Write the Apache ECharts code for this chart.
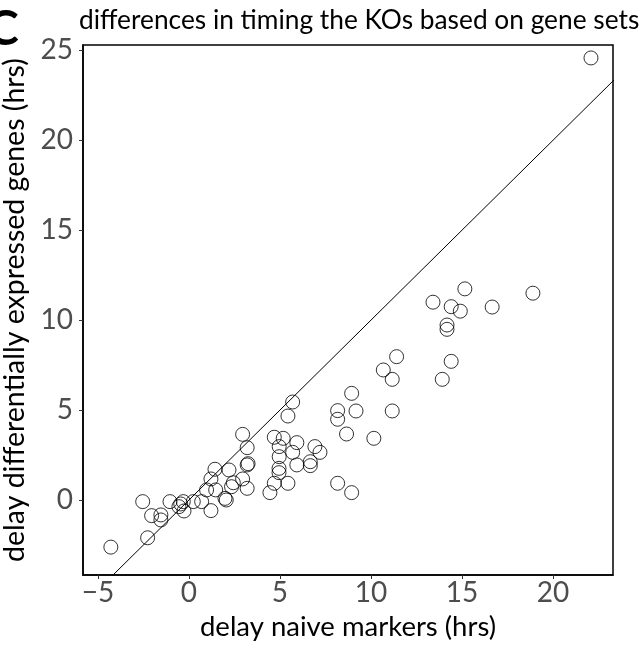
<!DOCTYPE html>
<html>
<head>
<meta charset="utf-8">
<script src="https://cdn.jsdelivr.net/npm/echarts@6/dist/echarts.min.js"></script>
<style>
html,body{margin:0;padding:0;background:#fff;}
#chart{width:644px;height:645px;}
</style>
</head>
<body>
<div id="chart"></div>
<script>
// delay naive markers (hrs)
const naiveDelay = [22.09,-4.29,-2.27,-2.54,-2.05,-1.54,-1.54,-1.04,-0.55,-0.31,-0.27,-0.45,0.24,0.70,1.21,0.97,1.21,1.43,1.47,1.98,2.05,2.20,2.34,2.44,2.95,3.20,3.20,3.25,2.95,3.20,4.45,4.69,5.18,4.96,4.96,4.95,4.95,4.69,5.44,5.93,5.70,5.93,6.92,7.20,6.67,6.67,5.70,5.44,8.17,8.17,9.18,8.94,8.66,10.16,8.17,8.94,11.17,10.68,11.17,11.41,13.92,14.41,14.18,14.18,13.41,14.41,14.91,15.16,16.66,18.90];
// delay differentially expressed genes (hrs)
const degDelay = [24.58,-2.62,-2.10,-0.09,-0.87,-0.83,-1.11,-0.09,-0.37,-0.09,-0.61,-0.22,-0.09,-0.09,-0.59,0.56,1.17,1.71,0.56,0.09,0.00,1.67,0.74,0.96,3.65,2.91,1.95,2.02,1.17,0.65,0.41,3.49,3.43,2.97,2.41,1.76,1.52,0.93,0.93,3.19,2.65,1.95,2.97,2.65,2.13,1.91,5.45,4.67,4.97,4.49,4.95,5.93,3.67,3.43,0.93,0.41,4.95,7.23,6.71,7.97,6.71,7.71,9.73,9.49,11.00,10.75,10.50,11.74,10.73,11.50];
const xTicks = [-5, 0, 5, 10, 15, 20];
const yTicks = [0, 5, 10, 15, 20, 25];
const identityLine = [-10, 30];
const xRange = [-5.82, 23.3];
const yRange = [-4.17, 25.3];

const points = naiveDelay.map((x, i) => [x, degDelay[i]]);
const font = 'Lato';
const fmt = v => String(v).replace('-', '\u2212');

const chart = echarts.init(document.getElementById('chart'), null, {renderer: 'canvas'});
chart.setOption({
  animation: false,
  backgroundColor: '#fff',
  title: {
    text: 'differences in timing the KOs based on gene sets',
    left: 74, top: 3,
    textStyle: {fontFamily: font, fontSize: 26.3, fontWeight: 'normal', color: '#000'}
  },
  graphic: [{
    type: 'text', left: -13, top: 6,
    style: {text: 'C', font: 'bold 48px ' + font, fill: '#000'}
  }],
  grid: {
    left: 83, right: 31, top: 45, bottom: 70,
    containLabel: false, outerBoundsMode: 'none',
    show: true, borderColor: '#000', borderWidth: 1.5, backgroundColor: '#fff'
  },
  xAxis: {
    type: 'value', min: xRange[0], max: xRange[1],
    name: 'delay naive markers (hrs)', nameLocation: 'middle', nameGap: 38,
    nameTextStyle: {fontFamily: font, fontSize: 27.5, color: '#000'},
    axisLine: {show: true, onZero: false, lineStyle: {color: '#000', width: 1.5}},
    splitLine: {show: false},
    axisTick: {show: true, length: 4, lineStyle: {color: '#333', width: 1}, customValues: xTicks},
    axisLabel: {customValues: xTicks, formatter: fmt, fontFamily: font, fontSize: 28, color: '#4d4d4d', margin: 4}
  },
  yAxis: {
    type: 'value', min: yRange[0], max: yRange[1],
    name: 'delay differentially expressed genes (hrs)', nameLocation: 'middle', nameGap: 47,
    nameTextStyle: {fontFamily: font, fontSize: 28.5, color: '#000'},
    axisLine: {show: true, onZero: false, lineStyle: {color: '#000', width: 1.5}},
    splitLine: {show: false},
    axisTick: {show: true, length: 4, lineStyle: {color: '#333', width: 1}, customValues: yTicks},
    axisLabel: {customValues: yTicks, formatter: fmt, fontFamily: font, fontSize: 28, color: '#4d4d4d', margin: 10}
  },
  series: [
    {
      type: 'line', data: [[identityLine[0], identityLine[0]], [identityLine[1], identityLine[1]]],
      showSymbol: false, symbol: 'none', clip: true,
      lineStyle: {color: '#000', width: 1}, z: 1
    },
    {
      type: 'scatter', data: points, symbol: 'circle', symbolSize: 14,
      itemStyle: {color: 'rgba(0,0,0,0)', borderColor: '#000', borderWidth: 1}, z: 2
    }
  ]
});
</script>
</body>
</html>
